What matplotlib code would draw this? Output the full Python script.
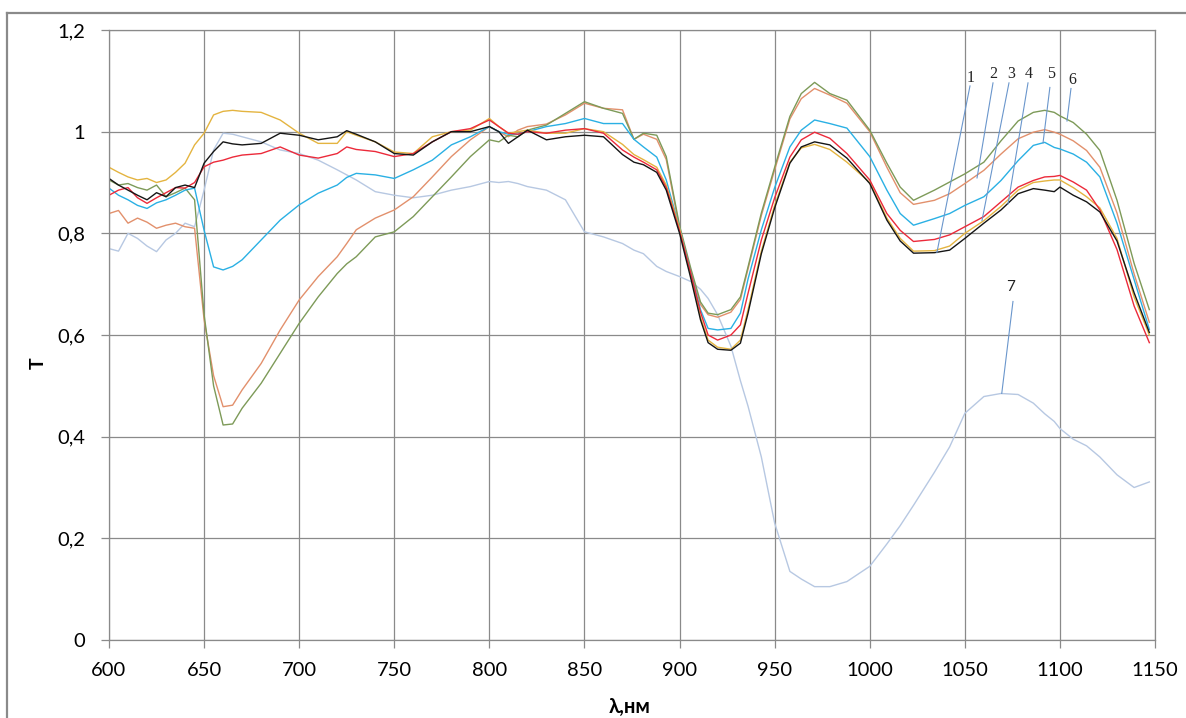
import matplotlib
matplotlib.use("Agg")
import matplotlib.pyplot as plt
from matplotlib.lines import Line2D

# wavelength grid, nm (shared by all curves)
wl = [600, 605, 610, 615, 620, 625, 630, 635, 640, 645, 650, 655, 660, 665, 670,
      680, 690, 700, 710, 720, 725, 730, 740, 750,
      760, 770, 780, 790, 800, 805, 810, 815, 820, 830, 840, 850, 860, 870,
      876, 881, 888, 893, 900, 906, 911, 915, 920, 927, 932, 936, 943, 950, 958,
      964, 971, 979, 988,
      1000, 1009, 1016, 1023, 1034, 1042, 1050, 1060, 1069, 1078, 1086, 1092,
      1097, 1100, 1107, 1114, 1121, 1130, 1139, 1147]

t_black = [0.908, 0.895, 0.885, 0.875, 0.866, 0.88, 0.872, 0.89, 0.895, 0.89, 0.938, 0.961, 0.98, 0.976, 0.974,
           0.977, 0.997, 0.993, 0.984, 0.99, 1.002, 0.995, 0.98, 0.957,
           0.954, 0.98, 1.0, 1.0, 1.01, 1.0, 0.977, 0.99, 1.003, 0.984, 0.99, 0.993, 0.99, 0.955,
           0.94, 0.935, 0.92, 0.885, 0.8, 0.71, 0.63, 0.585, 0.572, 0.57, 0.584, 0.643, 0.76, 0.85, 0.938,
           0.97, 0.98, 0.974, 0.948,
           0.898, 0.826, 0.785, 0.761, 0.762, 0.767, 0.79, 0.82, 0.846, 0.878, 0.888, 0.885,
           0.882, 0.891, 0.875, 0.862, 0.842, 0.785, 0.683, 0.605]

t_yellow = [0.93, 0.92, 0.911, 0.905, 0.908, 0.9, 0.905, 0.92, 0.938, 0.974, 0.997, 1.033, 1.04, 1.042, 1.04,
            1.038, 1.023, 0.997, 0.977, 0.977, 1.0, 0.993, 0.98, 0.96,
            0.957, 0.99, 1.0, 1.003, 1.026, 1.01, 0.997, 1.0, 1.003, 0.997, 0.997, 1.006, 1.0, 0.975,
            0.955, 0.945, 0.93, 0.895, 0.81, 0.715, 0.635, 0.59, 0.576, 0.572, 0.59, 0.65, 0.765, 0.855, 0.94,
            0.968, 0.975, 0.965, 0.94,
            0.9, 0.83, 0.79, 0.765, 0.766, 0.775, 0.8, 0.825, 0.853, 0.885, 0.9, 0.903,
            0.905, 0.905, 0.89, 0.872, 0.85, 0.79, 0.675, 0.6]

t_red = [0.875, 0.885, 0.89, 0.87, 0.859, 0.87, 0.88, 0.89, 0.889, 0.9, 0.931, 0.94, 0.944, 0.95, 0.954,
         0.957, 0.97, 0.954, 0.948, 0.957, 0.97, 0.965, 0.961, 0.951,
         0.957, 0.98, 1.0, 1.006, 1.023, 1.01, 0.997, 0.995, 1.0, 0.997, 1.003, 1.006, 0.997, 0.964,
         0.95, 0.94, 0.925, 0.89, 0.805, 0.72, 0.645, 0.6, 0.59, 0.6, 0.62, 0.682, 0.787, 0.87, 0.95,
         0.984, 0.999, 0.987, 0.957,
         0.905, 0.839, 0.806, 0.784, 0.788, 0.797, 0.813, 0.833, 0.862, 0.891, 0.904, 0.911,
         0.912, 0.914, 0.901, 0.885, 0.846, 0.768, 0.657, 0.585]

t_cyan = [0.889, 0.875, 0.866, 0.855, 0.849, 0.86, 0.866, 0.875, 0.885, 0.889, 0.806, 0.734, 0.728, 0.735, 0.748,
          0.787, 0.826, 0.856, 0.879, 0.895, 0.91, 0.918, 0.915, 0.908,
          0.925, 0.944, 0.974, 0.99, 1.01, 1.0, 0.995, 0.995, 1.0, 1.01, 1.016, 1.026, 1.016, 1.016,
          0.985, 0.97, 0.95, 0.905, 0.81, 0.72, 0.65, 0.613, 0.61, 0.613, 0.643, 0.71, 0.807, 0.89, 0.97,
          1.003, 1.023, 1.016, 1.007,
          0.951, 0.885, 0.839, 0.816, 0.829, 0.839, 0.855, 0.872, 0.904, 0.943, 0.973, 0.979,
          0.969, 0.966, 0.956, 0.94, 0.911, 0.82, 0.709, 0.611]

t_salmon = [0.839, 0.845, 0.82, 0.83, 0.822, 0.81, 0.816, 0.82, 0.813, 0.81, 0.63, 0.52, 0.459, 0.462, 0.492,
            0.544, 0.61, 0.669, 0.715, 0.754, 0.78, 0.807, 0.83, 0.846,
            0.872, 0.911, 0.951, 0.984, 1.01, 1.0, 0.99, 1.003, 1.01, 1.015, 1.033, 1.056, 1.046, 1.043,
            0.985, 0.995, 0.985, 0.945, 0.81, 0.725, 0.66, 0.64, 0.635, 0.645, 0.67, 0.73, 0.835, 0.925, 1.025,
            1.065, 1.085, 1.072, 1.056,
            1.0, 0.93, 0.88, 0.857, 0.865, 0.878, 0.898, 0.924, 0.956, 0.986, 0.999, 1.004,
            0.999, 0.995, 0.982, 0.963, 0.93, 0.84, 0.72, 0.625]

t_olive = [0.905, 0.895, 0.898, 0.89, 0.885, 0.895, 0.872, 0.88, 0.889, 0.866, 0.64, 0.5, 0.423, 0.425, 0.456,
           0.505, 0.564, 0.623, 0.675, 0.721, 0.74, 0.754, 0.793, 0.803,
           0.833, 0.872, 0.911, 0.951, 0.984, 0.98, 0.993, 0.99, 1.003, 1.013, 1.036, 1.059, 1.046, 1.036,
           0.985, 0.997, 0.993, 0.951, 0.815, 0.73, 0.665, 0.643, 0.64, 0.65, 0.675, 0.734, 0.84, 0.93, 1.03,
           1.075, 1.097, 1.075, 1.062,
           1.003, 0.938, 0.891, 0.865, 0.885, 0.901, 0.917, 0.94, 0.982, 1.021, 1.038, 1.042,
           1.038, 1.031, 1.018, 0.995, 0.963, 0.865, 0.741, 0.65]

t_pale = [0.77, 0.765, 0.8, 0.79, 0.775, 0.764, 0.787, 0.8, 0.82, 0.813, 0.885, 0.964, 0.997, 0.995, 0.99,
          0.98, 0.964, 0.957, 0.944, 0.925, 0.915, 0.905, 0.882, 0.875,
          0.87, 0.875, 0.885, 0.892, 0.902, 0.9, 0.902, 0.898, 0.892, 0.885, 0.866, 0.803, 0.793, 0.78,
          0.767, 0.76, 0.735, 0.725, 0.715, 0.705, 0.69, 0.672, 0.64, 0.578, 0.51, 0.46, 0.36, 0.23, 0.135,
          0.12, 0.105, 0.105, 0.115,
          0.145, 0.189, 0.225, 0.265, 0.33, 0.38, 0.446, 0.479, 0.485, 0.483, 0.466, 0.445,
          0.43, 0.416, 0.395, 0.382, 0.36, 0.325, 0.3, 0.311]

x_ticks = [600, 650, 700, 750, 800, 850, 900, 950, 1000, 1050, 1100, 1150]
y_ticks = [0, 0.2, 0.4, 0.6, 0.8, 1.0, 1.2]
y_labels = ['0', '0,2', '0,4', '0,6', '0,8', '1', '1,2']

# curve labels: text, text position, leader start, leader end (data coords)
labels = [
    ('1', (1053, 1.106), (1052.7, 1.090), (1035.3, 0.762)),
    ('2', (1064.8, 1.113), (1064.8, 1.096), (1056.4, 0.909)),
    ('3', (1074.2, 1.113), (1073.2, 1.096), (1059.0, 0.825)),
    ('4', (1083.7, 1.113), (1083.2, 1.096), (1072.7, 0.858)),
    ('5', (1095.3, 1.113), (1094.7, 1.087), (1091.1, 0.978)),
    ('6', (1106.3, 1.101), (1105.8, 1.085), (1103.7, 1.021)),
]

plt.rcParams['font.family'] = ['Lato', 'DejaVu Sans']

fig = plt.figure(figsize=(11.86, 7.18), dpi=100)
ax = fig.add_axes([0.0919, 0.1086, 0.882, 0.8496])

grid_c = '#8a8a8a'
ax.plot(wl, t_pale, color='#b7c8e2', lw=1.0)
ax.plot(wl, t_salmon, color='#e2906c', lw=1.0)
ax.plot(wl, t_olive, color='#7d9a58', lw=1.0)
ax.plot(wl, t_cyan, color='#2ab0e4', lw=1.0)
ax.plot(wl, t_yellow, color='#e4b440', lw=1.0)
ax.plot(wl, t_red, color='#ec2a3a', lw=1.0)
ax.plot(wl, t_black, color='#151515', lw=1.0)

for txt, tp, p0, p1 in labels:
    ax.plot([p0[0], p1[0]], [p0[1], p1[1]], color='#6a96cc', lw=0.8)
    ax.text(tp[0], tp[1], txt, ha='center', va='center', fontsize=11.5,
            family='Liberation Serif', color='#222222')
ax.plot([1075.3, 1069.4], [0.666, 0.485], color='#6a96cc', lw=0.8)
ax.text(1074, 0.695, '7', ha='center', va='center', fontsize=11, color='#222222')

ax.set_xlim(600, 1150)
ax.set_ylim(0, 1.2)
ax.set_xticks(x_ticks)
ax.set_yticks(y_ticks, y_labels)
ax.grid(True, color=grid_c, lw=0.9)
ax.set_axisbelow(True)
for s in ax.spines.values():
    s.set_color(grid_c)
    s.set_linewidth(0.9)
ax.tick_params(direction='out', length=6, width=0.9, color=grid_c,
               labelsize=14.5)
ax.tick_params(axis='x', pad=10)
ax.tick_params(axis='y', pad=11)

fig.text(38 / 1186, 1 - 363 / 718, 'T', rotation=90, ha='center', va='center',
         fontsize=14, fontweight='bold')
fig.text(630 / 1186, 1 - 707 / 718, 'λ,нм', ha='center', va='center',
         fontsize=14.5, fontweight='bold')

# outer chart frame (top and left edges visible)
fig.add_artist(Line2D([7 / 1186, 1.0], [1 - 13 / 718, 1 - 13 / 718],
                      transform=fig.transFigure, color='#8a8a8a', lw=1.6))
fig.add_artist(Line2D([7 / 1186, 7 / 1186], [0.0, 1 - 13 / 718],
                      transform=fig.transFigure, color='#8a8a8a', lw=1.6))

fig.savefig('out.png', dpi=100)
